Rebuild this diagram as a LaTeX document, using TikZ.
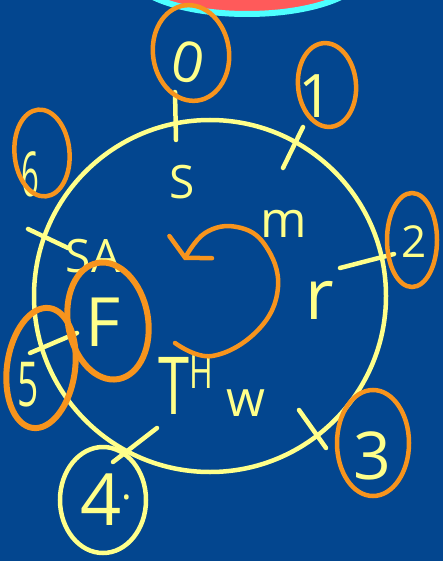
\documentclass[tikz,border=0pt]{standalone}
\usepackage{fontspec}
\setmainfont{Open Sans}
\usetikzlibrary{arrows.meta,shapes.geometric}

\definecolor{board}{HTML}{03468F}
\definecolor{chalk}{HTML}{FFFF8A}
\definecolor{marker}{HTML}{F7941D}
\definecolor{rim}{HTML}{4DFFFF}
\definecolor{blob}{HTML}{FF5A5A}

\newcommand{\hand}[1]{\fontsize{#1}{#1}\selectfont}

\begin{document}
\begin{tikzpicture}[x=1pt, y=-1pt,
            ring/.style={draw=marker, ellipse, line width=4.5pt, inner sep=0pt},
            scrawl/.style={text=chalk, inner sep=0pt},
            tick/.style={draw=chalk, line width=4.5pt, line cap=round},
            turn/.style={draw=marker, line width=4.5pt, line cap=round, line join=round, -{Straight Barb[length=12pt,width=48pt,line cap=round]}}
        ]
        \fill[board] (0,0) rectangle (443,561);
        \useasboundingbox (0,0) rectangle (443,561);
        % blob cut by the top edge
        \begin{scope}
            \clip (0,0) rectangle (443,561);
            \draw[rim, fill=blob, line width=6pt] (247,-28) ellipse [x radius=117, y radius=42];
        \end{scope}

        \node[circle, draw=chalk, line width=4.5pt, minimum size=352pt, inner sep=0pt] (face) at (210,296) {};

        % ticks across the face
        \coordinate (a0) at (175,92);  \coordinate (b0) at (176,140);
        \coordinate (a1) at (303,127); \coordinate (b1) at (283,168);
        \coordinate (a2) at (394,254); \coordinate (b2) at (340,268);
        \coordinate (a3) at (299,410); \coordinate (b3) at (326,448);
        \coordinate (a4) at (157,428); \coordinate (b4) at (113,462);
        \coordinate (a5) at (77,333);  \coordinate (b5) at (30,353);
        \coordinate (a6) at (28,229);  \coordinate (b6) at (68,248);
        \draw[tick] (a0) -- (b0);
        \draw[tick] (a1) -- (b1);
        \draw[tick] (a2) -- (b2);
        \draw[tick] (a3) -- (b3);
        \draw[tick] (a4) -- (b4);
        \draw[tick] (a5) -- (b5);
        \draw[tick] (a6) -- (b6);

        % day letters
        \node[scrawl, font=\hand{46}] (sun) at (182,182) {S};
        \node[scrawl, font=\hand{50}] (mon) at (284,224) {m};
        \node[scrawl, font=\hand{70}] (tue) at (320,300) {r};
        \node[scrawl, font=\hand{50}] (wed) at (246,403) {w};
        \node[scrawl, font=\hand{80}, xscale=0.7, transform shape] (thu) at (186,385) {T\raisebox{26pt}{\hand{46}H}};
        \node[scrawl, font=\hand{68}] (fri) at (103,322) {F};
        \node[scrawl, font=\hand{46}] (sat) at (93,256) {SA};

        % numbers
        \node[scrawl, font=\hand{56}, rotate=-12] (n0) at (188,62) {0};
        \node[scrawl, font=\hand{60}] (n1) at (316,96) {1};
        \node[scrawl, font=\hand{44}] (n2) at (414,242) {2};
        \node[scrawl, font=\hand{66}] (n3) at (372,456) {3};
        \node[scrawl, font=\hand{72}] (n4) at (106,500) {4\raisebox{26pt}{\hand{40}.}};
        \node[scrawl, font=\hand{62}, xscale=0.6, transform shape] (n5) at (28,385) {5};
        \node[scrawl, font=\hand{62}, xscale=0.5, transform shape] (n6) at (30,174) {6};

        % circled numbers
        \node[ring, minimum width=76pt, minimum height=96pt, rotate=8] (c0) at (191,53) {};
        \node[ring, minimum width=58pt, minimum height=84pt, rotate=5] (c1) at (327,85) {};
        \node[ring, minimum width=50pt, minimum height=94pt] (c2) at (412,240) {};
        \node[ring, minimum width=72pt, minimum height=106pt] (c3) at (373,443) {};
        \node[ring, draw=chalk, minimum width=86pt, minimum height=106pt] (c4) at (103,500) {};
        \node[ring, line width=6pt, minimum width=68pt, minimum height=121pt, rotate=-8] (c5) at (41,368) {};
        \node[ring, line width=6pt, minimum width=80pt, minimum height=118pt, rotate=10] (cf) at (108,321) {};
        \node[ring, minimum width=55pt, minimum height=87pt, rotate=5] (c6) at (42,153) {};

        % turning direction
        \draw[turn] plot[smooth, tension=0.7] coordinates {(175,343) (212,356) (258,330) (278,287) (265,245) (237,227) (205,233) (184,260)};
\end{tikzpicture}
\end{document}
